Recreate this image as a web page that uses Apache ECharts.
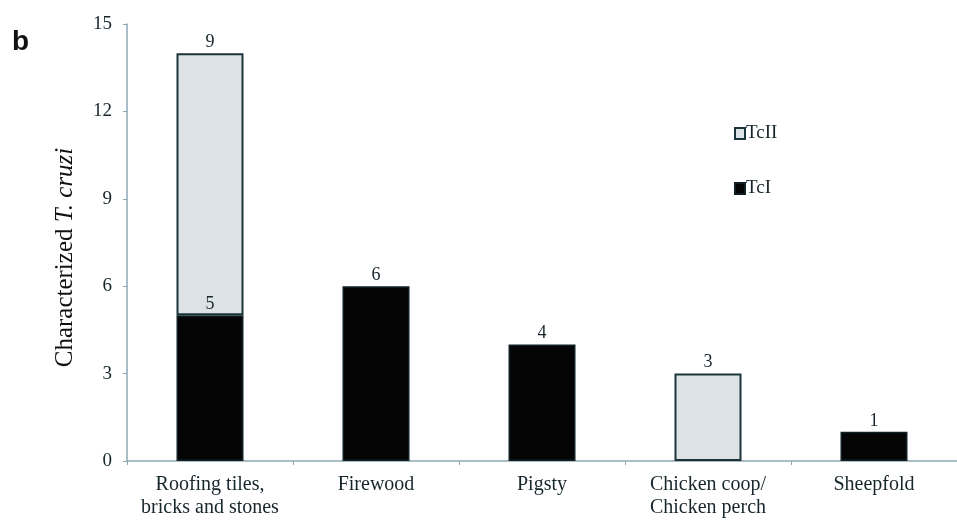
<!DOCTYPE html>
<html>
<head>
<meta charset="utf-8">
<script src="https://cdn.jsdelivr.net/npm/echarts@6/dist/echarts.min.js"></script>
<style>
  html, body { margin: 0; padding: 0; background: #fff; }
  #chart { width: 957px; height: 528px; }
</style>
</head>
<body>
<div id="chart"></div>
<script>
// Habitat categories and T. cruzi lineage counts
const categories = ['Roofing tiles,\nbricks and stones', 'Firewood', 'Pigsty', 'Chicken coop/\nChicken perch', 'Sheepfold'];
const tcI = [5, 6, 4, '-', 1];
const tcII = [9, '-', '-', 3, '-'];
const yTicks = [0, 3, 6, 9, 12, 15];

const serif = '"Liberation Serif", "Times New Roman", serif';
const axisColor = '#8fa6b3';
const textColor = '#17262b';

const chart = echarts.init(document.getElementById('chart'));
chart.setOption({
  animation: false,
  backgroundColor: '#fff',
  graphic: [{
    type: 'text', left: 12, top: 28,
    style: { text: 'b', font: 'bold 28px "Liberation Sans", Arial, sans-serif', fill: '#111' }
  }],
  legend: {
    orient: 'vertical',
    left: 729, top: 119,
    itemGap: 36,
    itemWidth: 10, itemHeight: 11,
    icon: 'rect',
    data: ['TcII', 'TcI'],
    textStyle: { fontFamily: serif, fontSize: 19, color: textColor, padding: [0, 0, 0, -4] }
  },
  grid: { left: 127, right: -3, top: 24, bottom: 67 },
  xAxis: {
    type: 'category',
    data: categories,
    axisLine: { lineStyle: { color: axisColor, width: 1.5 } },
    axisTick: { show: true, interval: 0, length: 4, lineStyle: { color: axisColor } },
    axisLabel: { interval: 0, hideOverlap: false, fontFamily: serif, fontSize: 20, color: textColor, margin: 12, lineHeight: 23 }
  },
  yAxis: {
    type: 'value', min: 0, max: 15, interval: 3,
    name: '{a|Characterized }{b|T. cruzi}',
    nameLocation: 'middle', nameGap: 49, nameRotate: 90,
    nameTextStyle: {
      padding: [0, 30, 0, 0],
      rich: {
        a: { fontFamily: serif, fontSize: 25, color: '#111' },
        b: { fontFamily: serif, fontSize: 25, fontStyle: 'italic', color: '#111' }
      }
    },
    splitLine: { show: false },
    axisLine: { show: true, lineStyle: { color: axisColor, width: 1.5 } },
    axisTick: { show: true, length: 4, lineStyle: { color: axisColor } },
    axisLabel: { fontFamily: serif, fontSize: 19, color: textColor, margin: 15,
      formatter: v => yTicks.includes(v) ? String(v) : '' }
  },
  series: [
    {
      name: 'TcI', type: 'bar', stack: 'total', data: tcI, barWidth: 67,
      itemStyle: { color: '#050505', borderColor: '#102024', borderWidth: 1.5 },
      label: { show: true, position: 'top', distance: 2, fontFamily: serif, fontSize: 18, color: textColor }
    },
    {
      name: 'TcII', type: 'bar', stack: 'total', data: tcII, barWidth: 67,
      itemStyle: { color: '#dce2e5', borderColor: '#1b343a', borderWidth: 2 },
      label: { show: true, position: 'top', distance: 2, fontFamily: serif, fontSize: 18, color: textColor }
    }
  ]
});
</script>
</body>
</html>
